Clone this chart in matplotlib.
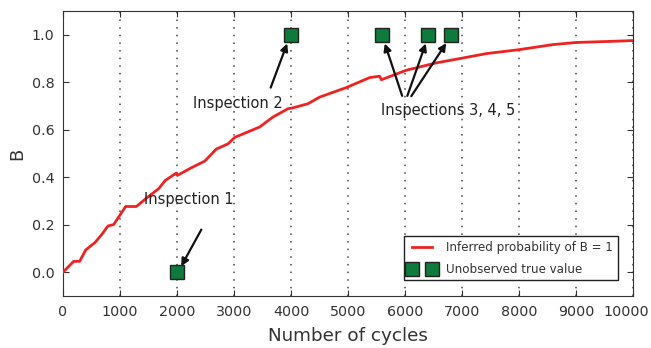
import matplotlib
matplotlib.use("Agg")
import matplotlib.pyplot as plt
from matplotlib import transforms

# Inferred probability curve
cycles = [0, 187, 292, 398, 560, 673, 789, 889, 1099, 1287, 1462, 1678, 1795, 1988, 2006,
          2250, 2485, 2690, 2895, 3012, 3250, 3450, 3684, 3947, 4023, 4298, 4503, 4970,
          5379, 5554, 5584, 6022, 6548, 6957, 7425, 8010, 8594, 9004, 9530, 10000]
prob = [0.0, 0.046, 0.046, 0.094, 0.125, 0.157, 0.195, 0.201, 0.277, 0.277, 0.312, 0.352,
        0.387, 0.418, 0.408, 0.440, 0.468, 0.519, 0.541, 0.568, 0.592, 0.612, 0.654, 0.689,
        0.692, 0.710, 0.738, 0.778, 0.820, 0.826, 0.811, 0.851, 0.882, 0.900, 0.921, 0.938,
        0.959, 0.968, 0.972, 0.976]

# Unobserved true values at inspections
insp_cycles = [2000, 4000, 5600, 6400, 6800]
insp_values = [0, 1, 1, 1, 1]

xticks = [0, 1000, 2000, 3000, 4000, 5000, 6000, 7000, 8000, 9000, 10000]
yticks = [0.0, 0.2, 0.4, 0.6, 0.8, 1.0]

fig = plt.figure(figsize=(6.51, 3.48), dpi=100)
ax = fig.add_axes([0.0968, 0.1494, 0.8756, 0.8186])

ax.plot(cycles, prob, color='#ee2222', lw=2, label='Inferred probability of B = 1', zorder=3)
ax.plot(insp_cycles, insp_values, 's', ms=10, color='#0e7a3c', mec='#222222', mew=1,
        linestyle='none', label='Unobserved true value', zorder=4)

ax.set_xlim(0, 10000)
ax.set_ylim(-0.1, 1.1)
ax.set_xticks(xticks)
ax.set_yticks(yticks)
ax.set_yticklabels([f"{v:.1f}" for v in yticks])
ax.tick_params(direction='in', top=True, right=True, labelsize=10.3, length=4,
               colors='#333333', labelcolor='#333333')
ax.tick_params(axis='x', pad=6.5)
ax.tick_params(axis='y', pad=6)
for s in ax.spines.values():
    s.set_color('#333333')
ax.xaxis.grid(True, linestyle=(0, (1, 4)), color='#444444', lw=1.1)
ax.set_axisbelow(True)

# last x tick label sits slightly left so it fits inside the figure
last = ax.get_xticklabels()[-1]
last.set_transform(last.get_transform() + transforms.ScaledTranslation(-7 / 100, 0, fig.dpi_scale_trans))

ax.set_xlabel('Number of cycles', fontsize=13.2, color='#333333', labelpad=6)
ax.set_ylabel('B', fontsize=13, color='#333333', labelpad=4)

arrow = dict(arrowstyle='-|>', color='#111111', lw=1.6, mutation_scale=11)
ax.annotate('', xy=(2050, 0.015), xytext=(2450, 0.19), arrowprops=arrow)
ax.text(1418, 0.307, 'Inspection 1', fontsize=10.5, va='center', ha='left', color='#222222')

ax.annotate('', xy=(3950, 0.975), xytext=(3626, 0.767), arrowprops=arrow)
ax.text(2278, 0.712, 'Inspection 2', fontsize=10.5, va='center', ha='left', color='#222222')

ax.annotate('', xy=(5630, 0.975), xytext=(5965, 0.732), arrowprops=arrow)
ax.annotate('', xy=(6380, 0.975), xytext=(6024, 0.732), arrowprops=arrow)
ax.annotate('', xy=(6750, 0.975), xytext=(6083, 0.732), arrowprops=arrow)
ax.text(5573, 0.682, 'Inspections 3, 4, 5', fontsize=10.5, va='center', ha='left', color='#222222')

leg = ax.legend(loc='lower right', numpoints=2, fontsize=8.6, fancybox=False,
                framealpha=1, edgecolor='#222222', borderaxespad=1.3,
                labelspacing=0.75, handlelength=2.2, handletextpad=0.9)
leg.get_frame().set_linewidth(1)
for t in leg.get_texts():
    t.set_color('#333333')

fig.savefig('out.png', dpi=100)
